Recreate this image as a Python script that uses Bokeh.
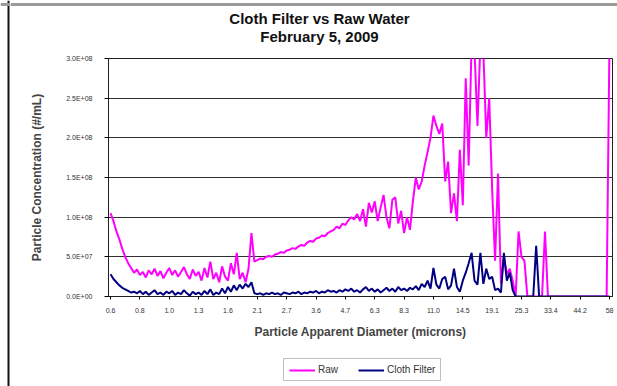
import numpy as np
from bokeh.plotting import figure
from bokeh.layouts import column, row
from bokeh.models import (Range1d, FixedTicker, ColumnDataSource, Legend, LegendItem, Label, Span)
from bokeh.embed import file_html
from bokeh.resources import INLINE

# ---------------- data (values in millions of particles) ----------------
x_labels = ["0.6", "0.8", "1.0", "1.3", "1.6", "2.1", "2.7", "3.6", "4.7", "6.3",
            "8.3", "11.0", "14.5", "19.1", "25.3", "33.4", "44.2", "58"]

raw_m = [
    105, 95, 82, 72, 60, 50, 42, 36, 30, 34,
    27, 31, 24, 33, 28, 35, 26, 32, 23, 30,
    36, 27, 33, 25, 31, 37, 28, 22, 34, 26,
    31, 20, 36, 24, 44, 22, 30, 18, 38, 25,
    20, 42, 28, 55, 22, 30, 18, 35, 80, 44,
    46, 48, 47, 50, 51, 50, 53, 54, 56, 55,
    58, 59, 61, 60, 63, 65, 64, 68, 70, 69,
    73, 74, 77, 76, 80, 82, 84, 88, 86, 92,
    90, 96, 100, 97, 104, 95, 110, 88, 118, 106,
    120, 95, 112, 128, 100, 86, 122, 125, 92, 108,
    80, 100, 84, 120, 150, 135, 145, 165, 182, 200,
    228, 215, 205, 218, 145, 170, 105, 130, 95, 185,
    115, 275, 165, 320, 310, 215, 320, 310, 200, 250,
    135, 45, 155, 16, 50, 28, 35, 20, 0, 82,
    50, 45, 0, 0, 0, 0, 0, 0, 82, 0,
    0, 0, 0, 0, 0, 0, 0, 0, 0, 0,
    0, 0, 0, 0, 0, 0, 0, 0, 0, 0,
    330,
]

cloth_m = [
    28, 22, 18, 14, 11, 9, 7, 5, 6, 4,
    7, 3, 6, 2, 5, 8, 3, 5, 2, 6,
    4, 7, 2, 5, 3, 8, 4, 1, 6, 3,
    5, 2, 7, 3, 9, 2, 5, 3, 10, 4,
    12, 6, 14, 8, 15, 10, 16, 12, 18, 4,
    3, 4, 2, 4, 3, 5, 3, 4, 2, 5,
    4, 3, 5, 4, 6, 3, 5, 4, 6, 5,
    7, 4, 6, 5, 8, 6, 7, 5, 8, 6,
    9, 7, 10, 6, 8, 5, 9, 12, 7, 10,
    6, 9, 5, 8, 11, 7, 10, 6, 12, 8,
    10, 7, 11, 9, 13, 8, 16, 12, 20, 10,
    36, 15, 10, 22, 25, 9, 14, 35, 12, 6,
    20, 30, 42, 55, 20, 15, 55, 16, 35, 22,
    25, 8, 10, 5, 55, 20, 30, 8, 0, 0,
    0, 0, 0, 0, 0, 64, 0, 0, 0, 0,
    0, 0, 0, 0, 0, 0, 0, 0, 0, 0,
    0, 0, 0, 0, 0, 0, 0, 0, 0, 0,
    0,
]

y_ticks = [0, 5e7, 1e8, 1.5e8, 2e8, 2.5e8, 3e8]
y_tick_labels = ["0.0E+00", "5.0E+07", "1.0E+08", "1.5E+08", "2.0E+08", "2.5E+08", "3.0E+08"]

series_names = ["Raw", "Cloth Filter"]
series_cols = ["raw", "cloth"]
series_colors = ["#FF00FF", "#000080"]
title_lines = ["Cloth Filter vs Raw Water", "February 5, 2009"]

assert len(raw_m) == len(cloth_m)
n = len(raw_m)
pts_per_label = 10
idx = np.arange(n)
src = ColumnDataSource(dict(x=idx, raw=np.array(raw_m) * 1e6, cloth=np.array(cloth_m) * 1e6))

FONT = "Liberation Sans"
STRIP_W = 10          # left strip that carries the chart's outer border
W = 617 - STRIP_W
TITLE_H = 48
LEG_H = 34
MAIN_H = 386 - TITLE_H - LEG_H


def blank(fig):
    fig.axis.visible = False
    fig.grid.grid_line_color = None
    fig.outline_line_color = None
    fig.background_fill_color = "white"
    fig.border_fill_color = "white"
    fig.frame_align = False


# ---------------- left strip with the black chart border ----------------
strip = figure(width=STRIP_W, height=386, output_backend="svg", toolbar_location=None,
               x_range=Range1d(0, STRIP_W), y_range=Range1d(0, 386), min_border=0)
blank(strip)
strip.add_layout(Span(location=8, dimension="height", line_color="#111111", line_width=2))
strip.add_layout(Span(location=382, dimension="width", line_color="#9a9a9a", line_width=3))

# ---------------- title ----------------
tfig = figure(width=W, height=TITLE_H, output_backend="svg", toolbar_location=None,
              x_range=Range1d(0, W), y_range=Range1d(0, TITLE_H), min_border=0)
blank(tfig)
tfig.add_layout(Span(location=TITLE_H - 4, dimension="width", line_color="#9a9a9a", line_width=3))
for text, yy in zip(title_lines, [TITLE_H - 18, TITLE_H - 36]):
    tfig.add_layout(Label(x=319 - STRIP_W, y=yy, text=text, text_align="center",
                          text_baseline="middle", text_font=FONT, text_font_style="bold",
                          text_font_size="15px", text_color="#111111"))

# ---------------- main chart ----------------
p = figure(width=W, height=MAIN_H, output_backend="svg", toolbar_location=None,
           x_range=Range1d(-0.7, n), y_range=Range1d(0, 3e8),
           min_border_left=108 - STRIP_W, min_border_right=5,
           min_border_top=58 - TITLE_H, min_border_bottom=MAIN_H - (296 - TITLE_H))
p.frame_align = False
p.background_fill_color = "white"
p.border_fill_color = "white"
p.outline_line_color = "#202020"
p.outline_line_width = 1

for col, color in zip(series_cols, series_colors):
    p.line("x", col, source=src, line_color=color, line_width=2)

p.xgrid.grid_line_color = None
p.ygrid.grid_line_color = "#303030"
p.ygrid.grid_line_width = 1
p.ygrid.ticker = FixedTicker(ticks=y_ticks)

p.yaxis.ticker = FixedTicker(ticks=y_ticks)
p.yaxis.major_label_overrides = {t: s for t, s in zip(y_ticks, y_tick_labels)}
p.yaxis.minor_tick_line_color = None
p.yaxis.major_tick_out = 4
p.yaxis.major_tick_in = 0
p.yaxis.major_label_standoff = 12
p.yaxis.major_label_text_font = FONT
p.yaxis.major_label_text_font_size = "7px"
p.yaxis.major_label_text_color = "#333333"
p.yaxis.axis_line_color = "#202020"
p.yaxis.axis_label = "Particle Concentration (#/mL)"
p.yaxis.axis_label_text_font = FONT
p.yaxis.axis_label_text_font_style = "bold"
p.yaxis.axis_label_text_font_size = "12px"
p.yaxis.axis_label_standoff = 19

x_ticks = [i * pts_per_label for i in range(len(x_labels))]
p.xaxis.ticker = FixedTicker(ticks=x_ticks)
p.xaxis.major_label_overrides = {t: s for t, s in zip(x_ticks, x_labels)}
p.xaxis.minor_tick_line_color = None
p.xaxis.major_tick_out = 3
p.xaxis.major_tick_in = 0
p.xaxis.major_label_standoff = 8
p.xaxis.major_label_text_font = FONT
p.xaxis.major_label_text_font_size = "7px"
p.xaxis.major_label_text_color = "#333333"
p.xaxis.axis_line_color = "#202020"
p.xaxis.axis_label = "Particle Apparent Diameter (microns)"
p.xaxis.axis_label_text_font = FONT
p.xaxis.axis_label_text_font_style = "bold"
p.xaxis.axis_label_text_font_size = "12px"
p.xaxis.axis_label_standoff = 9

# ---------------- legend strip ----------------
# the series are drawn here only for the legend keys; the x range keeps them out of view
lfig = figure(width=W, height=LEG_H, output_backend="svg", toolbar_location=None,
              x_range=Range1d(10000, 10000 + W), y_range=Range1d(0, LEG_H), min_border=0)
blank(lfig)
items = []
for name, col, color in zip(series_names, series_cols, series_colors):
    r = lfig.line("x", col, source=src, line_color=color, line_width=2)
    items.append(LegendItem(label=name, renderers=[r]))
legend = Legend(items=items, orientation="horizontal", location=(283 - STRIP_W, 5))
legend.label_text_font = FONT
legend.label_text_font_size = "10px"
legend.label_text_color = "#333333"
legend.glyph_width = 26
legend.glyph_height = 10
legend.label_standoff = 3
legend.spacing = 20
legend.padding = 5
legend.margin = 0
legend.border_line_color = "#808080"
legend.border_line_width = 1
legend.background_fill_color = "white"
lfig.add_layout(legend, "center")

layout = row(strip, column(tfig, p, lfig, spacing=0), spacing=0)
open("out.html", "w").write(file_html(layout, INLINE))
